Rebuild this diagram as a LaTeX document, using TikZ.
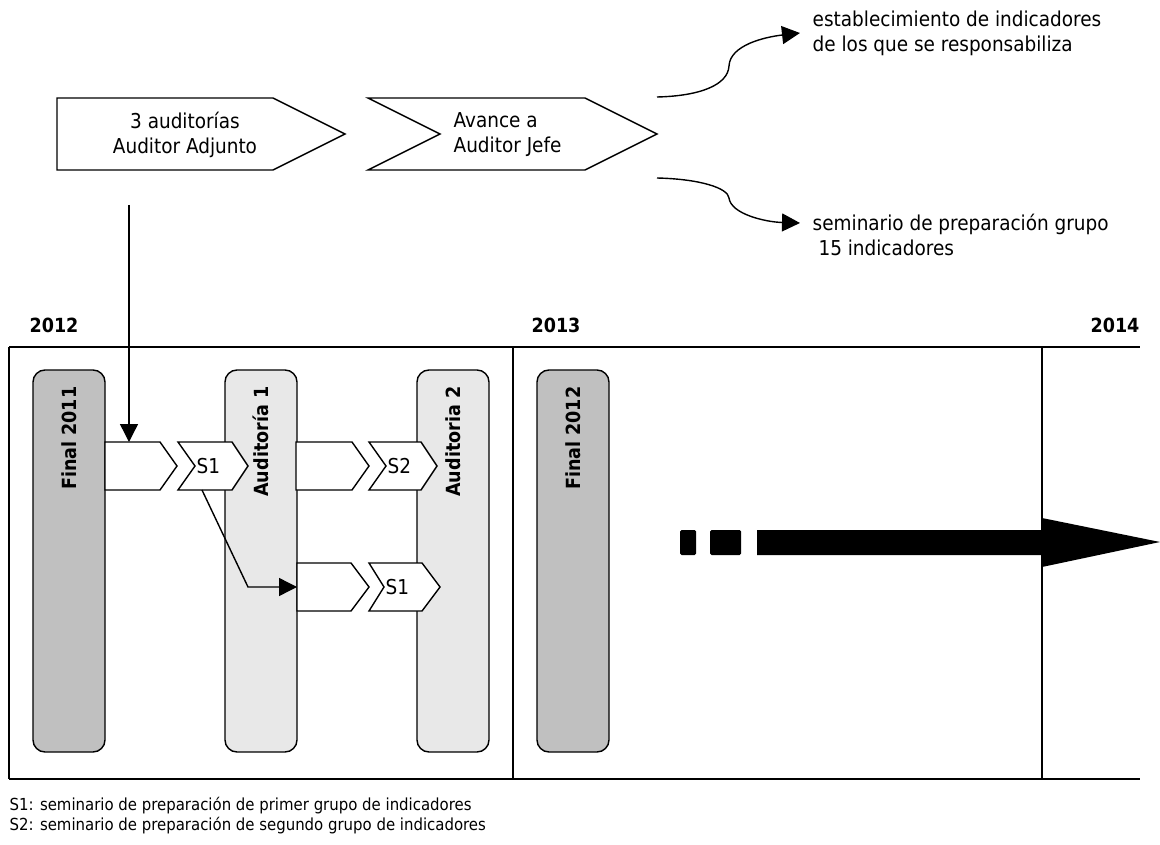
\documentclass[tikz,border=0pt]{standalone}
\usepackage{fontspec}
\setmainfont{DejaVu Sans Condensed}
\usetikzlibrary{positioning,arrows.meta}
\definecolor{finalgray}{HTML}{C0C0C0}
\definecolor{audgray}{HTML}{E8E8E8}

\begin{document}
\begin{tikzpicture}[x=1pt,y=-1pt,line width=1.4pt,
  txt/.style={font=\fontsize{20.5}{25}\selectfont,inner sep=0pt},
  small/.style={font=\fontsize{16.6}{20}\selectfont,inner sep=0pt,align=left},
  year/.style={font=\fontsize{19.5}{20}\selectfont\bfseries,inner sep=0pt},
  chev/.style={draw,fill=white,line join=miter},
  finalbox/.style={draw,fill=finalgray,rounded corners=12pt,minimum width=72pt,minimum height=382pt,inner sep=0pt},
  audbox/.style={draw,fill=audgray,rounded corners=12pt,minimum width=72pt,minimum height=382pt,inner sep=0pt},
  vlabel/.style={font=\fontsize{19.5}{20}\selectfont\bfseries,rotate=90,anchor=east,inner sep=0pt},
  tip/.style={-{Triangle[length=18pt,width=18pt]}}]
  \useasboundingbox (0,0) rectangle (1160,845);

  % top chevrons
  \draw[chev] (57,98) -- (273,98) -- (345,134) -- (273,170) -- (57,170) -- cycle;
  \node[txt,align=center] (adj) at (185,135) {3 auditorías\\Auditor Adjunto};
  \draw[chev] (368,98) -- (585,98) -- (657,134) -- (585,170) -- (368,170) -- (440,134) -- cycle;
  \node[txt,align=left,anchor=west] (jefe) at (453,135) {Avance a\\Auditor Jefe};
  \coordinate (jefeup) at (657,97);
  \coordinate (jefedown) at (657,178);
  \coordinate (adjdown) at (129,205);

  \node[txt,align=left,anchor=west] (ind) at (812,33) {establecimiento de indicadores\\de los que se responsabiliza};
  \node[txt,align=left,anchor=north west] (sem) at (812,213) {seminario de preparación grupo\\\ 15 indicadores};
  \draw[tip] (jefeup) .. controls (700,96) and (728,85) .. (729,66) .. controls (730,45) and (765,37) .. ([xshift=-12pt]ind.west);
  \draw[tip] (jefedown) .. controls (700,179) and (728,188) .. (729,198) .. controls (731,214) and (765,222) .. ([xshift=-12pt]sem.west |- 0,223);

  % years
  \node[year] (y12) at (54,325) {2012};
  \node[year] (y13) at (556,325) {2013};
  \node[year] (y14) at (1115,325) {2014};
  \draw (9,347) -- (1140,347);
  \draw (9,779) -- (1140,779);
  \draw (9,347) -- (9,779);
  \draw (513,347) -- (513,779);
  \draw (1042,347) -- (1042,779);

  % boxes
  \node[finalbox] (f11) at (69,561) {};
  \node[audbox] (a1) at (261,561) {};
  \node[audbox] (a2) at (453,561) {};
  \node[finalbox] (f12) at (573,561) {};
  \node[vlabel] at (f11.north |- 0,386) {Final 2011};
  \node[vlabel] at (a1.north |- 0,386) {Auditoría 1};
  \node[vlabel] at (a2.north |- 0,386) {Auditoria 2};
  \node[vlabel] at (f12.north |- 0,386) {Final 2012};

  % first row
  \draw[chev] (105,442) -- (160,442) -- (177,466) -- (160,490) -- (105,490) -- cycle;
  \coordinate (rowa) at (129,442);
  \draw[chev] (178,442) -- (232,442) -- (248,466) -- (232,490) -- (178,490) -- (195,466) -- cycle;
  \node[txt,anchor=west] (s1a) at (196,466) {S1};
  \coordinate (s1bot) at (202,490);
  \draw[chev] (296,442) -- (352,442) -- (369,466) -- (352,490) -- (296,490) -- cycle;
  \draw[chev] (369,442) -- (421,442) -- (437,466) -- (421,490) -- (369,490) -- (386,466) -- cycle;
  \node[txt,anchor=west] (s2) at (387,466) {S2};

  % second row
  \draw[chev] (297,563) -- (351,563) -- (369,587) -- (351,611) -- (297,611) -- cycle;
  \coordinate (rowb) at (297,587);
  \draw[chev] (369,563) -- (422,563) -- (440,587) -- (422,611) -- (369,611) -- (384,587) -- cycle;
  \node[txt,anchor=west] (s1b) at (385,587) {S1};

  \draw[tip] (adjdown) -- (rowa);
  \draw[tip] (s1bot) -- (248,587) -- (rowb);

  % big arrow
  \fill[rounded corners=1.5pt] (680,530) rectangle (696,555);
  \fill[rounded corners=1.5pt] (710,530) rectangle (741,555);
  \fill (757,530) -- (1042,530) -- (1042,518) -- (1160,542) -- (1042,567) -- (1042,555) -- (757,555) -- cycle;

  % legend
  \node[small,anchor=north west] (leg) at (9,797) {S1: seminario de preparación de primer grupo de indicadores\\S2: seminario de preparación de segundo grupo de indicadores};
\end{tikzpicture}
\end{document}
